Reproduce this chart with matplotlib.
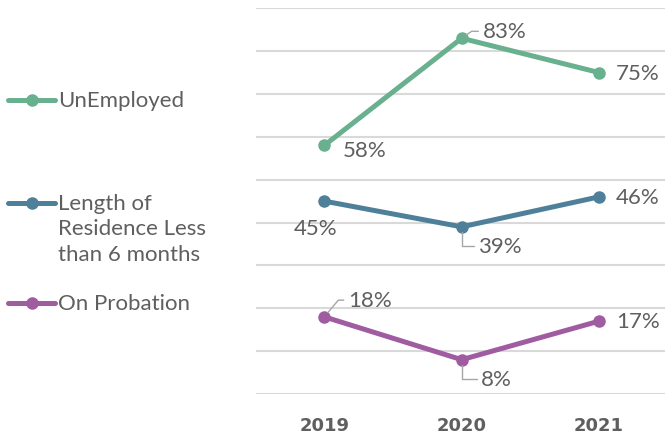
import matplotlib.pyplot as plt
from matplotlib.lines import Line2D

# -----------------------------
# DATA
# -----------------------------
years = ["2019", "2020", "2021"]
series_names = ["UnEmployed", "Length of\nResidence Less\nthan 6 months", "On Probation"]
unemployed = [58, 83, 75]
residence = [45, 39, 46]
probation = [18, 8, 17]

colors = ["#68B08E", "#4E809A", "#A05CA0"]
text_color = "#5F5F5F"
font = "Lato"

# label offsets (points) and whether a leader line is drawn
label_specs = [
    [((13, -3), None), ((15, 5), 35), ((12, 0), None)],
    [((-6, -19), "c"), ((12, -14), 90), ((12, 0), None)],
    [((17, 12), 50), ((14, -14), 90), ((12, 0), None)],
]

# -----------------------------
# PLOT
# -----------------------------
fig = plt.figure(figsize=(6.65, 4.35), dpi=100)
ax = fig.add_axes([0.3844, 0.092, 0.6197, 0.8867])

x = list(range(len(years)))
all_values = [unemployed, residence, probation]

for vals, col, specs in zip(all_values, colors, label_specs):
    ax.plot(x, vals, color=col, lw=3.6, marker="o", markersize=8,
            solid_capstyle="round", zorder=3)
    for xi, v, (off, lead) in zip(x, vals, specs):
        ha = "center" if lead == "c" else "left"
        kw = {}
        if isinstance(lead, int):
            kw["arrowprops"] = dict(arrowstyle="-", color="#A6A6A6", lw=1,
                                    shrinkA=1, shrinkB=4, relpos=(0, 0.5),
                                    connectionstyle=f"angle,angleA=0,angleB={lead},rad=0")
        ax.annotate(f"{v}%", (xi, v), xytext=off, textcoords="offset points",
                    ha=ha, va="center", fontsize=16, color=text_color,
                    family=font, zorder=4, **kw)

ax.set_xlim(-0.5, 2.5)
ax.set_ylim(0, 90)
ax.set_yticks(range(0, 91, 10))
ax.set_yticklabels([])
ax.set_xticks(x)
ax.set_xticklabels(years, fontsize=13, fontweight="bold", color=text_color)
ax.tick_params(axis="both", length=0)
ax.tick_params(axis="x", pad=16)
ax.grid(axis="y", color="#D9D9D9", lw=1.5)
ax.set_axisbelow(True)
for s in ax.spines.values():
    s.set_visible(False)

# legend drawn by hand on the left
legend_y = [101, 204, 304]
for name, col, ly in zip(series_names, colors, legend_y):
    yf = 1 - ly / 435
    fig.add_artist(Line2D([8 / 665, 31.5 / 665, 55 / 665], [yf, yf, yf],
                          transform=fig.transFigure, color=col, lw=3.6,
                          marker="o", markersize=8, markevery=[1],
                          solid_capstyle="round"))
    fig.text(58 / 665, yf + 10 / 435, name, ha="left", va="top",
             fontsize=16, color=text_color, family=font, linespacing=1.33)

fig.savefig("out.png", dpi=100)
